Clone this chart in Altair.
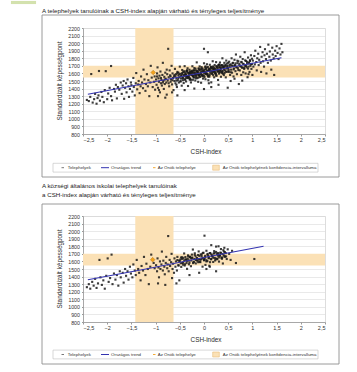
import altair as alt
import pandas as pd

FONT = "Liberation Sans"
BAND = "#FBE1B6"
BLUE = "#3434B0"
DOT = "#1a1a1a"
OWN = "#F2A21E"

title1 = "A telephelyek tanulóinak a CSH-index alapján várható és tényleges teljesítménye"
title2 = ["A községi általános iskolai telephelyek tanulóinak",
          "a CSH-index alapján várható és tényleges teljesítménye"]
y_title = "Standardizált képességpont"
x_title = "CSH-index"
legend_labels = ["Telephelyek", "Országos trend", "Az Önök telephelye",
                 "Az Önök telephelyének konfidencia-intervalluma"]

x_ticks = [-2.5, -2, -1.5, -1, -0.5, 0, 0.5, 1, 1.5, 2, 2.5]
y_ticks = [800, 900, 1000, 1100, 1200, 1300, 1400, 1500, 1600, 1700, 1800, 1900, 2000, 2100, 2200]

# own site and its confidence interval
own_site_1 = [(-1.05, 1612)]
own_site_2 = [(-1.06, 1623)]
ci_x = [-1.42, -0.63]
ci_y = [1545, 1700]

# national trend lines
trend1_x = [-2.4, 1.6]
trend1_y = [1324, 1808]
trend2_x = [-2.4, -1.2, 0.0, 1.23]
trend2_y = [1358, 1500, 1652, 1800]

# sites, chart 1
sites1 = [
    (-2.42,1250),(-2.38,1235),(-2.35,1290),(-2.33,1592),(-2.30,1215),(-2.27,1260),(-2.25,1330),(-2.22,1200),(-2.20,1275),(-2.18,1310),
    (-2.17,1632),(-2.15,1240),(-2.12,1355),(-2.10,1290),(-2.07,1220),(-2.05,1380),(-2.03,1630),(-2.00,1260),(-1.98,1335),(-1.95,1410),
    (-1.92,1698),(-1.92,1300),(-1.90,1245),(-1.86,1395),(-1.84,1360),(-1.82,1450),(-1.80,1270),(-1.78,1420),(-1.75,1385),(-1.72,1480),(-1.70,1330),
    (-1.68,1440),(-1.66,1500),(-1.65,1265),(-1.63,1410),(-1.61,1470),(-1.60,1350),(-1.58,1520),(-1.56,1430),(-1.55,1290),(-1.53,1395),
    (-1.51,1480),(-1.50,1445),(-1.48,1360),(-1.46,1540),(-1.45,1420),(-1.43,1310),(-1.41,1470),(-1.40,1605),(-1.38,1390),(-1.36,1455),
    (-1.35,1500),(-1.33,1340),(-1.31,1430),(-1.30,1560),(-1.28,1480),(-1.26,1405),(-1.25,1650),(-1.23,1520),(-1.21,1370),(-1.20,1460),
    (-1.18,1590),(-1.16,1430),(-1.15,1510),(-1.13,1300),(-1.11,1480),(-1.10,1700),(-1.08,1545),(-1.06,1420),(-1.03,1490),(-1.02,1560),(-1.01,1385),
    (-0.99,1520),(-0.98,1450),(-0.97,1600),(-0.96,1680),(-0.95,1410),(-0.94,1535),(-0.93,1490),(-0.92,1570),(-0.91,1350),(-0.90,1625),
    (-0.89,1470),(-0.88,1515),(-0.87,1440),(-0.86,1580),(-0.85,1740),(-0.84,1500),(-0.83,1395),(-0.82,1555),(-0.81,1460),(-0.80,1610),
    (-0.79,1530),(-0.78,1480),(-0.77,1320),(-0.76,1590),(-0.75,1505),(-0.74,1925),(-0.73,1550),(-0.72,1430),(-0.71,1640),(-0.70,1575),
    (-0.69,1490),(-0.68,1520),(-0.67,1700),(-0.66,1455),(-0.65,1600),(-0.64,1540),(-0.63,1380),(-0.62,1560),(-0.61,1500),(-0.60,1660),
    (-0.59,1470),(-0.58,1590),(-0.57,1535),(-0.56,1420),(-0.55,1620),(-0.54,1510),(-0.53,1575),(-0.52,1480),(-0.51,1550),(-0.50,1690),
    (-0.97,1560),(-0.93,1380),(-0.89,1540),(-0.85,1480),(-0.81,1520),(-0.77,1650),(-0.73,1470),(-0.69,1560),(-0.65,1510),(-0.61,1580),
    (-0.57,1450),(-0.53,1610),(-0.95,1300),(-0.80,1280),(-0.66,1350),(-0.55,1310),
    (-0.49,1595),(-0.48,1496),(-0.47,1567),(-0.46,1438),(-0.45,1645),(-0.44,1541),(-0.43,1617),(-0.42,1473),(-0.41,1569),(-0.40,1696),
    (-0.39,1522),(-0.38,1593),(-0.37,1494),(-0.36,1630),(-0.35,1562),(-0.34,1668),(-0.33,1434),(-0.32,1610),(-0.31,1547),(-0.30,1648),
    (-0.29,1524),(-0.28,1595),(-0.27,1481),(-0.26,1633),(-0.25,1579),(-0.24,1695),(-0.23,1516),(-0.22,1607),(-0.21,1549),(-0.20,1670),
    (-0.19,1576),(-0.18,1507),(-0.17,1638),(-0.16,1595),(-0.15,1746),(-0.14,1537),(-0.13,1628),(-0.12,1489),(-0.11,1666),(-0.10,1577),
    (-0.09,1693),(-0.08,1554),(-0.07,1616),(-0.06,1477),(-0.05,1683),(-0.04,1574),(-0.03,1665),(-0.02,1532),(-0.01,1638),(0.00,1734),
    (0.01,1550),(0.02,1621),(0.03,1523),(0.04,1659),(0.05,1600),(0.06,1721),(0.07,1577),(0.08,1684),(0.09,1510),(0.10,1641),
    (0.11,1557),(0.12,1714),(0.13,1600),(0.14,1681),(0.15,1482),(0.16,1668),(0.17,1625),(0.18,1761),(0.19,1577),(0.20,1658),
    (0.21,1549),(0.22,1711),(0.23,1602),(0.24,1648),(0.25,1749),(0.26,1570),(0.27,1692),(0.28,1628),(0.29,1514),(0.30,1710),
    (0.31,1597),(0.32,1683),(0.33,1744),(0.34,1645),(0.35,1556),(0.36,1708),(0.37,1624),(0.38,1800),(0.39,1596),(0.40,1677),
    (0.41,1579),(0.42,1740),(0.43,1641),(0.44,1707),(0.45,1548),(0.46,1770),(0.47,1621),(0.48,1692),(0.49,1668),(0.50,1740),
    (-0.475,1532),(-0.455,1589),(-0.435,1511),(-0.415,1579),(-0.395,1611),(-0.375,1559),(-0.355,1631),(-0.335,1538),(-0.315,1596),(-0.295,1518),
    (-0.275,1616),(-0.255,1578),(-0.235,1636),(-0.215,1548),(-0.195,1600),(-0.175,1663),(-0.155,1575),(-0.135,1623),(-0.115,1545),(-0.095,1643),
    (-0.075,1590),(-0.055,1662),(-0.035,1580),(-0.015,1617),(0.005,1570),(0.025,1682),(0.045,1594),(0.065,1637),(0.085,1559),(0.105,1657),
    (0.125,1629),(0.145,1677),(0.165,1599),(0.185,1691),(0.205,1629),(0.225,1661),(0.245,1594),(0.265,1681),(0.285,1628),(0.305,1711),
    (0.325,1613),(0.345,1666),(0.365,1708),(0.385,1631),(0.405,1688),(0.425,1605),(0.445,1708),(0.465,1665),(0.485,1703),(0.505,1630),
    (-0.385,1582),(-0.365,1540),(-0.345,1612),(-0.325,1560),(-0.305,1602),(-0.285,1535),(-0.265,1587),(-0.245,1619),(-0.225,1567),(-0.205,1639),
    (-0.185,1587),(-0.165,1559),(-0.145,1626),(-0.125,1609),(-0.105,1576),(-0.085,1649),(-0.065,1596),(-0.045,1629),(-0.025,1571),(-0.005,1613),
    (0.015,1651),(0.035,1603),(0.055,1676),(0.075,1593),(0.095,1635),(0.115,1578),(0.135,1655),(0.155,1628),(0.175,1675),(0.195,1618),
    (0.215,1655),(0.235,1607),(0.255,1695),(0.275,1647),(0.295,1625),(0.315,1682),(0.335,1645),(0.355,1702),(0.375,1614),(0.395,1682),
    (-0.59,1563),(-0.57,1505),(-0.55,1602),(-0.53,1535),(-0.51,1587),(-0.49,1495),(-0.47,1562),(-0.45,1605),(-0.43,1537),(-0.41,1629),
    (-0.39,1517),(-0.37,1579),(-0.35,1642),(-0.33,1544),(-0.31,1572),(-0.29,1619),(-0.27,1516),(-0.25,1609),(-0.23,1566),(-0.21,1639),
    (-0.19,1606),(-0.17,1538),(-0.15,1626),(-0.13,1588),(-0.11,1661),(-0.09,1568),(-0.07,1606),(-0.05,1653),(-0.03,1565),(-0.01,1638),
    (0.01,1600),(0.03,1693),(0.05,1595),(0.07,1633),(0.09,1565),(0.11,1662),(0.13,1625),(0.15,1687),(0.17,1595),(0.19,1657),
    (0.21,1679),(0.23,1622),(0.25,1574),(0.27,1677),(0.29,1654),(0.31,1717),(0.33,1624),(0.35,1671),(0.37,1609),(0.39,1706),
    (0.41,1654),(0.43,1691),(0.45,1624),(0.47,1731),(0.49,1673),(0.51,1651),(0.53,1713),(0.55,1616),(0.57,1703),(0.59,1735),
    (0.61,1653),(0.63,1700),(0.65,1733),(0.67,1680),(0.69,1768),(0.71,1645),(0.73,1727),(0.75,1700),(0.77,1752),(0.79,1680),
    (0.81,1727),(0.83,1674),(0.85,1772),(0.87,1699),(0.89,1752),(0.91,1664),(0.93,1732),(0.95,1764),(0.97,1721),(0.99,1794),
    (0.51,1620),(0.52,1755),(0.53,1690),(0.54,1580),(0.55,1720),(0.56,1650),(0.57,1800),(0.58,1610),(0.59,1700),(0.60,1740),
    (0.61,1560),(0.62,1665),(0.63,1780),(0.64,1710),(0.65,1630),(0.66,1850),(0.67,1690),(0.68,1590),(0.69,1735),(0.70,1670),
    (0.71,1760),(0.72,1460),(0.73,1705),(0.74,1640),(0.75,1820),(0.76,1690),(0.77,1580),(0.78,1745),(0.79,1675),(0.80,1790),
    (0.81,1615),(0.82,1720),(0.83,1660),(0.84,1880),(0.85,1700),(0.86,1600),(0.87,1765),(0.88,1680),(0.89,1730),(0.90,1550),
    (0.91,1810),(0.92,1690),(0.93,1745),(0.94,1620),(0.95,1775),(0.96,1700),(0.97,1840),(0.98,1660),(0.99,1725),(1.00,1580),
    (0.55,1500),(0.63,1530),(0.79,1505),(0.49,1411),(0.92,1590),
    (1.01,1770),(1.02,1690),(1.04,1830),(1.05,1720),(1.06,1900),(1.08,1750),(1.09,1640),(1.10,1800),(1.12,1860),(1.13,1710),
    (1.14,1780),(1.16,1950),(1.17,1740),(1.18,1620),(1.19,1820),(1.21,1880),(1.22,1760),(1.24,1690),(1.25,1840),(1.26,1920),
    (1.28,1790),(1.29,1600),(1.30,1860),(1.32,1740),(1.33,1980),(1.35,1820),(1.36,1890),(1.38,1770),(1.39,1650),(1.41,1940),
    (1.42,1850),(1.44,1800),(1.45,1580),(1.47,1900),(1.48,1830),(1.50,1960),(1.52,1870),(1.54,1790),(1.56,1930),(1.58,1850),
    (1.60,1990),(1.62,1880),
    (0.00,1925),(0.08,1880),(0.00,1394),(0.15,1420),(0.30,1450),(-0.20,1400),(-0.40,1380),(0.10,1470),
]

# sites, chart 2
sites2 = [
    (-2.42,1260),(-2.38,1300),(-2.35,1240),(-2.31,1330),(-2.28,1280),(-2.25,1370),(-2.22,1250),(-2.19,1310),(-2.16,1620),(-2.14,1390),
    (-2.11,1290),(-2.08,1350),(-2.05,1240),(-2.02,1410),(-1.99,1640),(-1.97,1330),(-1.94,1380),(-1.91,1690),(-1.89,1300),(-1.86,1440),
    (-1.83,1360),(-1.80,1420),(-1.77,1280),(-1.74,1470),(-1.72,1390),
    (-1.68,1450),(-1.66,1320),(-1.63,1500),(-1.61,1410),(-1.58,1470),(-1.56,1360),(-1.53,1530),(-1.51,1440),(-1.48,1390),(-1.46,1560),
    (-1.43,1480),(-1.41,1420),(-1.39,1620),(-1.36,1500),(-1.34,1450),(-1.31,1350),(-1.29,1540),(-1.26,1480),(-1.24,1660),(-1.21,1420),
    (-1.19,1570),(-1.16,1500),(-1.14,1300),(-1.11,1530),(-1.09,1690),(-1.04,1580),(-1.02,1510),
    (-0.99,1550),(-0.97,1470),(-0.96,1640),(-0.94,1520),(-0.93,1390),(-0.91,1600),(-0.90,1500),(-0.88,1560),(-0.87,1730),(-0.85,1480),
    (-0.84,1610),(-0.82,1530),(-0.81,1430),(-0.79,1580),(-0.78,1660),(-0.76,1510),(-0.75,1560),(-0.74,1935),(-0.73,1470),(-0.71,1620),
    (-0.70,1540),(-0.68,1590),(-0.67,1700),(-0.65,1500),(-0.64,1570),(-0.62,1450),(-0.61,1640),(-0.59,1530),(-0.58,1600),(-0.56,1480),
    (-0.55,1660),(-0.53,1550),(-0.52,1610),(-0.51,1350),(-0.95,1310),(-0.80,1290),(-0.66,1380),(-0.57,1310),
    (-0.49,1625),(-0.47,1528),(-0.45,1655),(-0.43,1583),(-0.41,1705),(-0.39,1562),(-0.37,1625),(-0.35,1502),(-0.33,1680),(-0.31,1612),
    (-0.29,1660),(-0.27,1537),(-0.25,1645),(-0.23,1757),(-0.21,1594),(-0.19,1707),(-0.17,1574),(-0.15,1647),(-0.13,1614),(-0.11,1732),
    (-0.09,1594),(-0.07,1691),(-0.05,1634),(-0.03,1531),(-0.01,1714),(0.01,1631),(0.03,1554),(0.05,1741),(0.07,1604),(0.09,1671),
    (0.11,1543),(0.13,1711),(0.15,1633),(0.17,1671),(0.19,1593),(0.21,1736),(0.23,1613),(0.25,1796),(0.27,1638),(0.29,1710),
    (0.31,1598),(0.33,1680),(0.35,1763),(0.37,1635),(0.39,1573),(0.41,1730),(0.43,1662),(0.45,1710),(0.47,1632),(0.49,1760),
    (-0.48,1576),(-0.456,1634),(-0.432,1557),(-0.408,1615),(-0.384,1658),(-0.36,1581),(-0.336,1634),(-0.312,1562),(-0.288,1660),(-0.264,1613),
    (-0.24,1651),(-0.216,1589),(-0.192,1687),(-0.168,1620),(-0.144,1642),(-0.12,1590),(-0.096,1673),(-0.072,1621),(-0.048,1694),(-0.024,1647),
    (0.0,1620),(0.024,1673),(0.048,1601),(0.072,1689),(0.096,1647),(0.12,1710),(0.144,1628),(0.168,1680),(0.192,1648),(0.216,1711),
    (0.24,1629),(0.264,1697),(0.288,1675),(0.312,1653),(0.336,1716),(0.36,1649),(0.384,1697),(0.408,1680),(0.432,1723),(0.456,1666),
    (-0.55,1618),(-0.525,1546),(-0.50,1604),(-0.475,1652),(-0.45,1580),(-0.425,1643),(-0.40,1546),(-0.375,1624),(-0.35,1607),(-0.325,1665),
    (-0.30,1583),(-0.275,1646),(-0.25,1690),(-0.225,1578),(-0.20,1631),(-0.175,1669),(-0.15,1612),(-0.125,1685),(-0.10,1628),(-0.075,1591),
    (-0.05,1669),(-0.025,1712),(0.0,1615),(0.025,1653),(0.05,1616),(0.075,1699),(0.10,1642),(0.125,1590),(0.15,1693),(0.175,1666),
    (0.20,1704),(0.225,1647),(0.25,1725),(0.275,1629),(0.30,1692),(0.325,1675),(0.35,1713),(0.375,1651),(0.40,1749),(0.425,1667),
    (0.52,1700),(0.55,1620),(0.58,1740),(0.66,1579),(1.04,1632),(0.01,1940),(0.15,1815),(0.30,1800),(0.42,1780),(0.25,1470),
    (-0.10,1450),(0.05,1500),(-0.30,1420),(0.12,1530),
]


def one():
    return pd.DataFrame({"k": [0]})


def txt(s, x, y, size, color="#222222", align="left", angle=None):
    kw = dict(align=align, baseline="middle", fontSize=size, font=FONT, color=color)
    if angle is not None:
        kw["angle"] = angle
    return alt.Chart(one()).mark_text(**kw).encode(
        x=alt.value(x), y=alt.value(y), text=alt.value(s))


def box(x0, x1, y0, y1, fill, stroke, sw=0.8, fo=1.0):
    return alt.Chart(one()).mark_rect(fill=fill, fillOpacity=fo, stroke=stroke, strokeWidth=sw).encode(
        x=alt.value(x0), x2=alt.value(x1), y=alt.value(y0), y2=alt.value(y1))


def seg(x0, x1, y, color, sw):
    return alt.Chart(one()).mark_rule(color=color, strokeWidth=sw).encode(
        x=alt.value(x0), x2=alt.value(x1), y=alt.value(y))


W, H = 242, 106


def panel(sites, tx, ty, own, titles, frame, legend_y, extra=None):
    xs = alt.Scale(domain=[-2.5, 2.5], nice=False, zero=False)
    ys = alt.Scale(domain=[800, 2200], nice=False, zero=False)
    xax = alt.Axis(values=x_ticks, title=None, grid=False, labelFont=FONT, labelFontSize=5.5,
                   labelColor="#333333", labelPadding=1.5, tickSize=2, tickColor="#9a9a9a",
                   domainColor="#9a9a9a", domainWidth=0.8,
                   labelExpr="replace(format(datum.value, '~g'), '.', ',')")
    yax = alt.Axis(values=y_ticks, title=None, grid=True, gridColor="#dadada", gridWidth=0.6,
                   labelFont=FONT, labelFontSize=5.3, labelColor="#333333", labelPadding=2,
                   tickSize=1.5, tickColor="#9a9a9a", domainColor="#9a9a9a", domainWidth=0.8, format="d")

    def X(f):
        return alt.X(f, type="quantitative", scale=xs, axis=xax)

    def Y(f):
        return alt.Y(f, type="quantitative", scale=ys, axis=yax)

    bands = pd.DataFrame({"x0": [ci_x[0], -2.5], "x1": [ci_x[1], 2.5],
                          "y0": [800, ci_y[0]], "y1": [2200, ci_y[1]]})
    layers = []
    layers.append(box(-41, 256, frame[0], frame[1], "white", "#8f8f8f", 0.9, 0.0))
    if extra is not None:
        layers.append(extra)
    layers.append(alt.Chart(bands).mark_rect(color=BAND).encode(
        x=X("x0"), x2=alt.X2("x1"), y=Y("y0"), y2=alt.Y2("y1")))
    pts = pd.DataFrame(sites, columns=["x", "y"])
    layers.append(alt.Chart(pts).mark_point(shape="square", filled=True, size=4.5, color=DOT,
                                            opacity=0.85, strokeWidth=0).encode(x=X("x"), y=Y("y")))
    tr = pd.DataFrame({"x": tx, "y": ty})
    layers.append(alt.Chart(tr).mark_line(color=BLUE, strokeWidth=1.1).encode(x=X("x"), y=Y("y")))
    od = pd.DataFrame(own, columns=["x", "y"])
    layers.append(alt.Chart(od).mark_point(shape="diamond", filled=True, size=22, color=OWN,
                                           stroke="#a86a00", strokeWidth=0.4, opacity=1).encode(
        x=X("x"), y=Y("y")))
    # axis titles
    layers.append(txt(y_title, -22.7, H / 2, 6.4, "#2a2a2a", "center", 270))
    layers.append(txt(x_title, 123, 124, 6.4, "#2a2a2a", "center"))
    # chart titles
    for s, ty_ in titles:
        layers.append(txt(s, -41, ty_, 6.2, "#1a1a1a"))
    # legend
    ly = legend_y
    layers.append(box(-30, 235, ly - 4.4, ly + 4.4, "white", "#bdbdbd", 0.6))
    layers.append(seg(-21.5, -19, ly, "#555555", 0.8))
    layers.append(txt(legend_labels[0], -15.3, ly, 4.4, "#333333"))
    layers.append(seg(18, 26, ly, BLUE, 1))
    layers.append(txt(legend_labels[1], 28, ly, 4.4, "#333333"))
    layers.append(seg(70, 72.5, ly, OWN, 0.9))
    layers.append(txt(legend_labels[2], 74.7, ly, 4.4, "#333333"))
    layers.append(box(129.7, 136.3, ly - 2.5, ly + 2.5, BAND, "#e3b36a", 0.5))
    layers.append(txt(legend_labels[3], 139.7, ly, 4.4, "#333333"))
    return alt.layer(*layers).properties(width=W, height=H)


green = box(-72, -47, -27, -24, "#D3E2AE", "#D3E2AE", 0.1)

p1 = panel(sites1, trend1_x, trend1_y, own_site_1, [(title1, -17)], (-13, 149), 139.7, green)
p2 = panel(sites2, trend2_x, trend2_y, own_site_2, [(title2[0], -30), (title2[1], -21)], (-12, 148), 138.5)

chart = alt.vconcat(p1, p2, spacing=82, bounds="flush").properties(
    padding={"left": 10, "top": 0, "right": 5, "bottom": 5}
).configure_view(stroke=None).configure(background="white")

chart.save("out.html", embed_options={"renderer": "svg", "actions": False})
